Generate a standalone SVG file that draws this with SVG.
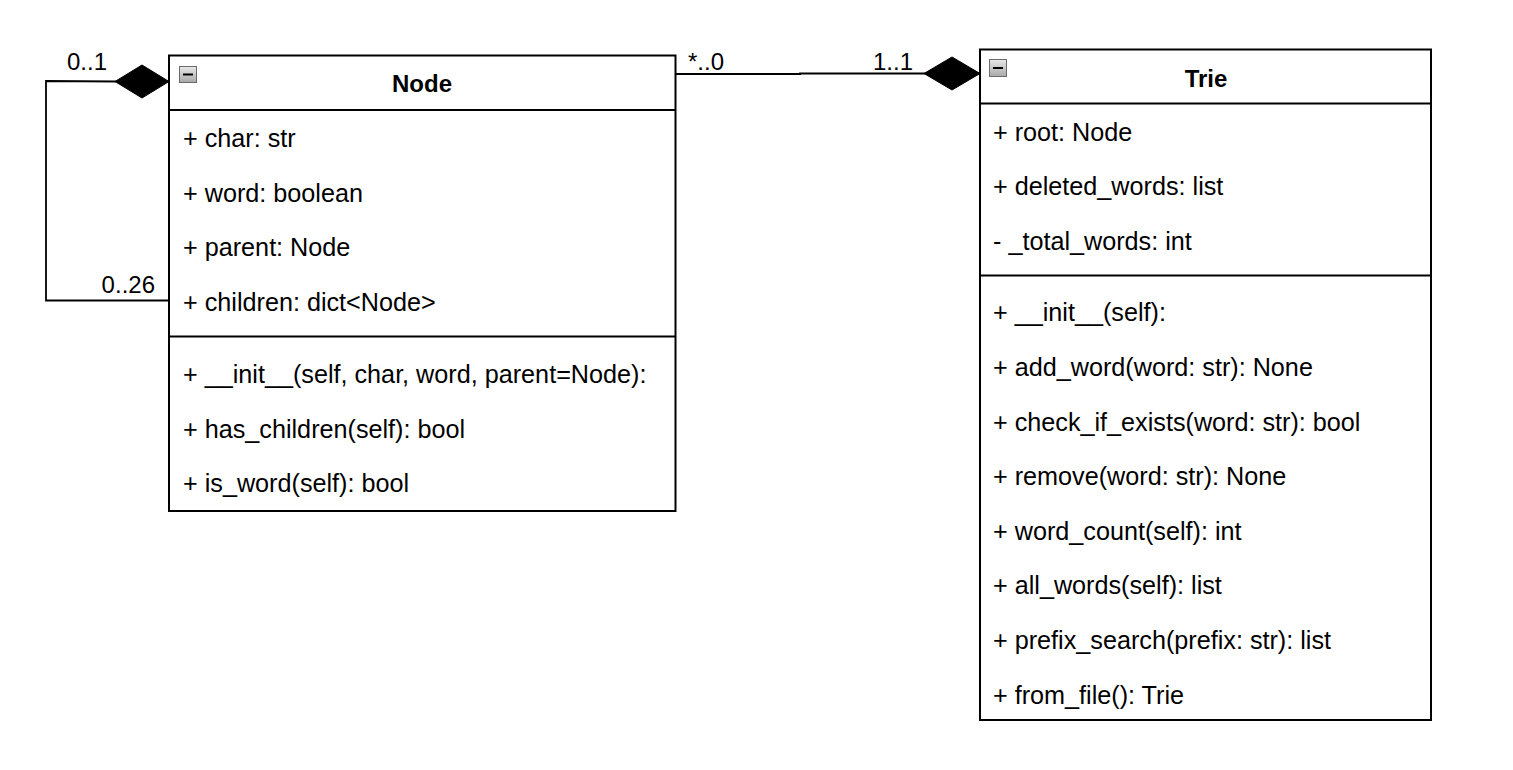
<svg xmlns="http://www.w3.org/2000/svg" width="1513" height="770" viewBox="0 0 1513 770">
<style>
.box{fill:#ffffff;stroke:#000000;stroke-width:2}
.sep{stroke:#000000;stroke-width:2;fill:none}
.t{font-family:"Liberation Sans",Arial,sans-serif;font-size:25.2px;fill:#000000}
.title{font-family:"Liberation Sans",Arial,sans-serif;font-size:24px;font-weight:bold;fill:#000000;text-anchor:middle}
.lbl{font-family:"Liberation Sans",Arial,sans-serif;font-size:24px;fill:#000000}
.edge{stroke:#000000;stroke-width:1.8;fill:none}
.dia{fill:#000000;stroke:#000000;stroke-width:1}
.ic{fill:url(#icg);stroke:#6b6b6b;stroke-width:1}
.icm{stroke:#000000;stroke-width:2}
</style>
<defs>
<linearGradient id="icg" x1="0" y1="0" x2="0" y2="1">
<stop offset="0" stop-color="#e8e8e8"/>
<stop offset="1" stop-color="#a8a8a8"/>
</linearGradient>
</defs>
<rect width="1513" height="770" fill="#ffffff"/>
<g id="connectors">
<path class="edge" d="M116,81.5 L46,81 L46,300.5 L169,300.5"/>
<polygon class="dia" points="169,81.5 142,65 115,81.5 142,98"/>
<text class="lbl" x="67" y="70">0..1</text>
<text class="lbl" x="155" y="293" text-anchor="end">0..26</text>
<path class="edge" d="M676,74 L800,74 L800,73.5 L925,73.5"/>
<polygon class="dia" points="980,73.5 952,57 924,73.5 952,90"/>
<text class="lbl" x="688" y="70">*..0</text>
<text class="lbl" x="913" y="70" text-anchor="end">1..1</text>
</g>
<g id="node-Node">
<rect class="box" x="169" y="55.5" width="506.5" height="455.5"/>
<line class="sep" x1="169" y1="110" x2="675.5" y2="110"/>
<line class="sep" x1="169" y1="336.5" x2="675.5" y2="336.5"/>
<rect class="ic" x="179.5" y="66.5" width="17" height="16"/>
<line class="icm" x1="183" y1="74.5" x2="193" y2="74.5"/>
<text class="title" x="422" y="92">Node</text>
<text class="t" x="183" y="147">+ char: str</text>
<text class="t" x="183" y="202">+ word: boolean</text>
<text class="t" x="183" y="256">+ parent: Node</text>
<text class="t" x="183" y="311">+ children: dict&lt;Node&gt;</text>
<text class="t" x="183" y="383">+ __init__(self, char, word, parent=Node):</text>
<text class="t" x="183" y="438">+ has_children(self): bool</text>
<text class="t" x="183" y="492">+ is_word(self): bool</text>
</g>
<g id="node-Trie">
<rect class="box" x="980" y="49.5" width="451" height="670.5"/>
<line class="sep" x1="980" y1="103.5" x2="1431" y2="103.5"/>
<line class="sep" x1="980" y1="275.5" x2="1431" y2="275.5"/>
<rect class="ic" x="989.5" y="59.5" width="17" height="17"/>
<line class="icm" x1="993" y1="68" x2="1003" y2="68"/>
<text class="title" x="1206" y="87">Trie</text>
<text class="t" x="993" y="141">+ root: Node</text>
<text class="t" x="993" y="195">+ deleted_words: list</text>
<text class="t" x="993" y="250">- _total_words: int</text>
<text class="t" x="993" y="321">+ __init__(self):</text>
<text class="t" x="993" y="376">+ add_word(word: str): None</text>
<text class="t" x="993" y="431">+ check_if_exists(word: str): bool</text>
<text class="t" x="993" y="485">+ remove(word: str): None</text>
<text class="t" x="993" y="540">+ word_count(self): int</text>
<text class="t" x="993" y="594">+ all_words(self): list</text>
<text class="t" x="993" y="649">+ prefix_search(prefix: str): list</text>
<text class="t" x="993" y="704">+ from_file(): Trie</text>
</g>
</svg>
